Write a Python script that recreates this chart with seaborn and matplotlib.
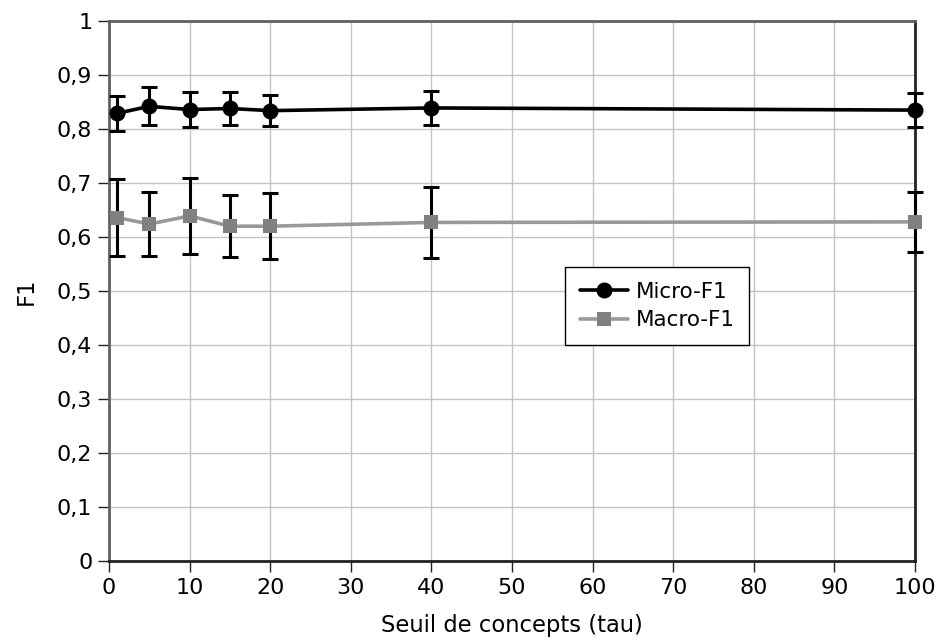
import matplotlib
matplotlib.use("Agg")
import matplotlib.pyplot as plt
import matplotlib.ticker as mticker
import numpy as np
import pandas as pd
import seaborn as sns

# Concept threshold values (tau)
tau = [1, 5, 10, 15, 20, 40, 100]

# Mean scores and standard deviations
micro_f1 = [0.829, 0.842, 0.836, 0.838, 0.834, 0.839, 0.835]
micro_err = [0.033, 0.035, 0.032, 0.031, 0.029, 0.032, 0.032]
macro_f1 = [0.636, 0.624, 0.639, 0.620, 0.620, 0.627, 0.628]
macro_err = [0.071, 0.059, 0.070, 0.057, 0.061, 0.065, 0.056]

series_names = ["Micro-F1", "Macro-F1"]
x_label = "Seuil de concepts (tau)"
y_label = "F1"

df = pd.DataFrame({
    "tau": tau * 2,
    "F1": micro_f1 + macro_f1,
    "err": micro_err + macro_err,
    "serie": [series_names[0]] * len(tau) + [series_names[1]] * len(tau),
})

sns.set_theme(style="whitegrid")
plt.rcParams["font.family"] = ["DejaVu Sans"]
plt.rcParams["text.color"] = "black"

fig = plt.figure(figsize=(9.39, 6.40), dpi=100)
ax = fig.add_axes([109 / 939, 1 - 561 / 640, (915 - 109) / 939, (561 - 21) / 640])

line_colors = {series_names[0]: "#000000", series_names[1]: "#999999"}
marker_colors = {series_names[0]: "#000000", series_names[1]: "#808080"}
markers = {series_names[0]: "o", series_names[1]: "s"}
msizes = {series_names[0]: 11.5, series_names[1]: 10.5}

sns.lineplot(data=df, x="tau", y="F1", hue="serie", style="serie",
             palette=line_colors, markers=markers, dashes=False,
             linewidth=2.6, ax=ax, legend=False, zorder=4)

series_lines = list(ax.lines[:2])
for line, name in zip(series_lines, series_names):
    line.set_markersize(msizes[name])
    line.set_markerfacecolor(marker_colors[name])
    line.set_markeredgecolor(marker_colors[name])
    line.set_markeredgewidth(0)
    line.set_clip_on(False)

# error bars beneath the markers
for name, grp in df.groupby("serie", sort=False):
    ax.errorbar(grp["tau"], grp["F1"], yerr=grp["err"], fmt="none",
                ecolor="black", elinewidth=2.2, capsize=5.5, capthick=2.2,
                zorder=3, clip_on=False)

ax.set_xlim(0, 100)
ax.set_ylim(0, 1)
ax.xaxis.set_major_locator(mticker.MultipleLocator(10))
ax.yaxis.set_major_locator(mticker.MultipleLocator(0.1))
ax.yaxis.set_major_formatter(mticker.FuncFormatter(
    lambda v, p: ("%g" % round(v, 2)).replace(".", ",")))

ax.grid(True, color="#c4c4c4", linewidth=1.0)
ax.set_axisbelow(True)
ax.tick_params(axis="both", which="major", direction="out", length=8,
               width=1.0, color="#222222", labelsize=16, labelcolor="black",
               pad=4, left=True, bottom=True)

for side in ["left", "top"]:
    ax.spines[side].set_color("#606060")
    ax.spines[side].set_linewidth(2.0)
for side in ["bottom", "right"]:
    ax.spines[side].set_color("#222222")
    ax.spines[side].set_linewidth(2.0)

ax.set_xlabel(x_label, fontsize=16.3, color="black", labelpad=12)
ax.set_ylabel(y_label, fontsize=16.3, color="black", labelpad=14)

handles = [
    plt.Line2D([], [], color=line_colors[n], marker=markers[n],
               markersize=msizes[n], markerfacecolor=marker_colors[n],
               markeredgecolor=marker_colors[n], markeredgewidth=0,
               linewidth=2.6)
    for n in series_names
]
leg = ax.legend(handles, series_names, loc="upper left",
                bbox_to_anchor=((565 - 109) / 806, (561 - 267) / 540),
                fontsize=15.5, frameon=True, fancybox=False, framealpha=1,
                edgecolor="black", handlelength=2.25, borderpad=0.68,
                labelspacing=0.4, handletextpad=0.35, borderaxespad=0)
leg.get_frame().set_linewidth(1.0)
for t in leg.get_texts():
    t.set_color("black")

fig.savefig("out.png", dpi=100)
